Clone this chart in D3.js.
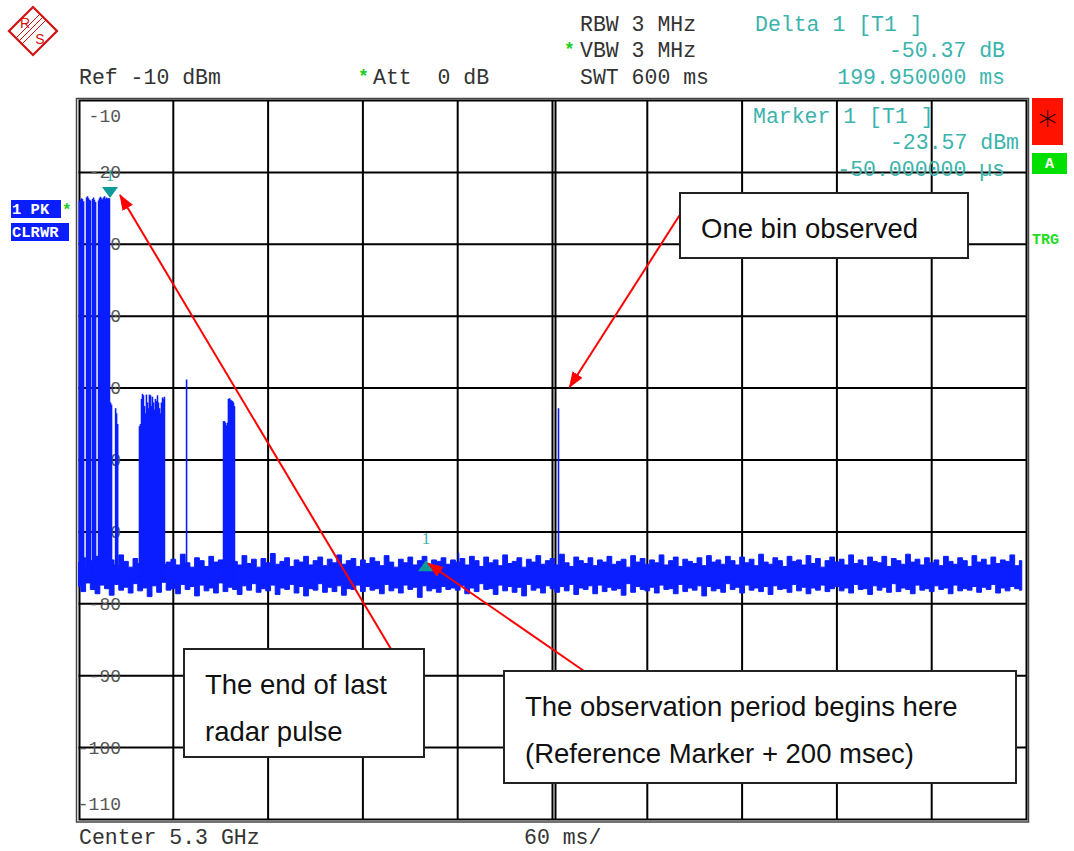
<!DOCTYPE html>
<html>
<head>
<meta charset="utf-8">
<script src="https://cdn.jsdelivr.net/npm/d3@7"></script>
<style>
  body { margin: 0; background: #fff; }
  svg { display: block; }
</style>
</head>
<body>
<div id="chart"></div>
<script>
// sweep: -20 ms .. 580 ms, 60 ms/div ; level: -110 .. -10 dBm
const sweepStart = -20, sweepEnd = 580, msPerDiv = 60;
const yTicks = [-10, -20, -30, -40, -50, -60, -70, -80, -90, -100, -110];

// noise floor, one bin every 3 ms starting at -20 ms (peak / min of each bin)
const noiseStep = 3;
const noiseHigh = [
  -74.2,-73.6,-74.8,-74.0,-73.4,-75.0,-74.3,-73.9,-74.6,-73.2,-74.1,-74.9,-73.7,-74.4,-73.5,-74.7,-74.0,-73.3,-74.5,-74.2,
  -73.8,-74.6,-73.1,-74.3,-74.9,-73.6,-74.0,-74.8,-73.4,-74.2,-73.9,-74.7,-73.5,-74.1,-74.6,-73.3,-74.4,-73.8,-74.9,-73.7,
  -74.3,-73.0,-74.5,-74.1,-73.6,-74.8,-73.9,-74.2,-73.4,-74.6,-74.0,-73.5,-74.7,-73.8,-74.3,-73.2,-74.5,-74.0,-73.7,-74.8,
  -73.9,-74.4,-73.6,-74.1,-74.7,-73.3,-74.2,-74.9,-73.8,-74.3,-73.5,-74.6,-74.0,-73.4,-74.8,-73.9,-74.1,-73.6,-74.5,-73.9,
  -74.2,-73.7,-74.6,-73.4,-74.0,-74.8,-73.5,-74.3,-73.9,-74.7,-73.2,-74.4,-74.1,-73.6,-74.9,-73.8,-74.2,-73.3,-74.5,-74.0,
  -73.7,-74.6,-73.1,-74.3,-74.8,-73.5,-74.0,-74.4,-73.6,-74.7,-73.9,-74.2,-73.4,-74.5,-74.1,-73.8,-74.9,-73.3,-74.2,-73.7,
  -74.5,-73.9,-74.3,-73.2,-74.6,-74.0,-73.5,-74.8,-73.8,-74.1,-74.4,-73.6,-74.7,-73.3,-74.2,-73.9,-74.5,-73.4,-74.0,-74.6,
  -73.5,-74.3,-73.8,-74.7,-73.1,-74.2,-74.5,-73.6,-74.0,-74.8,-73.4,-74.1,-73.9,-74.6,-73.3,-74.4,-73.7,-74.9,-74.0,-73.5,
  -74.2,-73.8,-74.6,-73.2,-74.4,-73.9,-74.7,-73.5,-74.1,-74.3,-73.4,-74.8,-73.7,-74.0,-74.5,-73.1,-74.2,-73.8,-74.6,-73.6,
  -74.3,-73.9,-74.7,-73.4,-74.1,-74.5,-73.6,-74.0,-74.8,-73.3,-74.2,-73.8,-74.6,-73.5,-74.4,-73.9,-74.1,-73.2,-74.7,-74.0
];
const noiseLow = [
  -77.6,-78.3,-77.1,-78.0,-78.6,-77.4,-77.9,-78.8,-77.3,-78.1,-77.7,-78.5,-77.2,-78.2,-77.8,-79.0,-77.5,-78.4,-77.0,-78.1,
  -77.9,-78.6,-77.3,-78.0,-77.6,-78.9,-77.4,-78.2,-77.8,-78.5,-77.1,-78.3,-77.7,-78.0,-78.7,-77.5,-78.1,-77.2,-78.4,-77.9,
  -78.2,-77.4,-78.7,-77.8,-78.0,-77.3,-78.5,-77.6,-78.9,-77.9,-78.1,-77.2,-78.4,-77.7,-78.3,-77.5,-78.8,-77.9,-78.0,-77.4,
  -78.3,-77.6,-78.1,-77.9,-78.6,-77.3,-78.2,-77.8,-78.5,-77.4,-78.0,-77.7,-79.1,-77.5,-78.2,-77.9,-78.4,-77.6,-78.0,-77.8,
  -78.1,-77.5,-78.6,-77.8,-78.3,-77.2,-78.0,-77.9,-78.7,-77.4,-78.2,-77.6,-78.4,-77.7,-78.9,-77.3,-78.1,-77.8,-78.5,-77.5,
  -77.9,-78.4,-77.6,-78.2,-77.3,-78.7,-77.8,-78.0,-77.5,-78.6,-77.4,-78.3,-77.7,-78.1,-77.9,-78.8,-77.2,-78.4,-77.6,-78.0,
  -78.2,-77.7,-78.5,-77.4,-78.0,-77.9,-78.6,-77.3,-78.3,-77.8,-78.1,-77.5,-78.9,-77.6,-78.2,-77.9,-78.4,-77.2,-78.0,-77.7,
  -78.5,-77.4,-78.1,-77.8,-78.3,-77.6,-78.7,-77.5,-78.0,-77.9,-78.4,-77.3,-78.2,-77.7,-78.6,-77.8,-78.1,-77.4,-78.3,-77.9,
  -77.6,-78.2,-77.8,-78.5,-77.3,-78.0,-77.9,-78.7,-77.5,-78.1,-77.7,-78.4,-77.2,-78.3,-77.8,-78.0,-78.6,-77.4,-78.1,-77.9,
  -78.3,-77.5,-78.0,-77.8,-78.6,-77.4,-78.2,-77.9,-78.1,-77.6,-78.4,-77.7,-78.0,-77.3,-78.5,-77.8,-78.2,-77.6,-77.9,-78.1
];

// radar pulses above the floor (time in ms, peak in dBm)
const pulseTimes = [
  -19.4,-18.7,-18.1,-17.5,-16.8,-14.9,-14.3,-13.7,-13.0,-12.4,-11.1,-10.5,-9.9,-9.2,
  -7.3,-6.7,-6.1,-5.4,-4.8,-4.2,-3.5,-2.9,-2.3,-1.6,-1.0,-0.4,0.3,0.9,3.5,4.1,4.8,
  18.6,19.2,19.9,20.5,21.1,21.8,22.4,23.0,23.7,24.3,24.9,25.6,26.2,26.8,27.5,28.1,28.7,29.4,30.0,30.6,31.3,31.9,32.5,33.2,33.8,34.4,
  48.4,
  71.8,72.4,73.0,73.7,74.3,74.9,75.6,76.2,76.8,77.5,78.1,78.7,
  220.5,
  283.8
];
const pulseLevels = [
  -24.0,-23.8,-23.6,-23.7,-24.0,-23.5,-23.3,-23.6,-23.8,-23.9,-23.7,-23.5,-23.8,-24.1,
  -23.9,-23.6,-23.4,-23.6,-23.8,-23.5,-23.3,-23.7,-23.5,-23.6,-23.6,-23.6,-52.0,-52.3,-52.8,-53.5,-55.0,
  -55.3,-55.0,-51.5,-50.8,-51.0,-52.5,-53.5,-50.9,-52.0,-52.8,-50.9,-51.0,-52.5,-51.2,-52.0,-53.0,-51.5,-51.8,-51.0,-52.0,-52.8,-53.5,-52.0,-51.3,-51.5,-51.2,
  -48.8,
  -54.6,-54.6,-54.8,-55.2,-54.8,-51.5,-51.4,-51.6,-51.7,-51.8,-52.0,-52.5,
  -72.9,
  -52.8
];

const marker1 = { time: -0.05, level: -23.57 };
const delta1 = { dTime: 199.95, dLevel: -50.37 };

const width = 1074, height = 851;
const blue = "#0a1eff", teal = "#3bb3ad", mono = "'Liberation Mono', monospace", sans = "'Liberation Sans', Arial, sans-serif";

const x = d3.scaleLinear().domain([sweepStart, sweepEnd]).range([78.5, 1026.5]);
const y = d3.scaleLinear().domain([-110, -10]).range([819.5, 100.5]);

const svg = d3.create("svg")
  .attr("width", width)
  .attr("height", height)
  .attr("viewBox", [0, 0, width, height]);

svg.append("defs").append("marker")
  .attr("id", "arrow")
  .attr("viewBox", "0 0 16 12")
  .attr("refX", 15)
  .attr("refY", 6)
  .attr("markerWidth", 16)
  .attr("markerHeight", 12)
  .attr("markerUnits", "userSpaceOnUse")
  .attr("orient", "auto")
  .append("path")
  .attr("d", "M0,0L16,6L0,12Z")
  .attr("fill", "#ff0000");

// R&S logo
const logo = svg.append("g").attr("transform", "translate(33,31)");
logo.append("rect").attr("x", -17).attr("y", -17).attr("width", 34).attr("height", 34)
  .attr("transform", "rotate(45)").attr("fill", "#fff").attr("stroke", "#d41111").attr("stroke-width", 2.2);
[-3, 0, 3].forEach(o => logo.append("line")
  .attr("x1", 10 + o).attr("y1", -14 + o).attr("x2", -14 + o).attr("y2", 10 + o)
  .attr("stroke", "#d41111").attr("stroke-width", 1));
logo.append("text").attr("x", -8).attr("y", -3).attr("text-anchor", "middle")
  .attr("font-family", sans).attr("font-size", 14).attr("fill", "#d41111").text("R");
logo.append("text").attr("x", 7).attr("y", 13).attr("text-anchor", "middle")
  .attr("font-family", sans).attr("font-size", 14).attr("fill", "#d41111").text("S");

// header settings
const hdr = svg.append("g").attr("font-family", mono).attr("font-size", 21.5).attr("fill", "#333");
hdr.append("text").attr("x", 79).attr("y", 84).attr("xml:space", "preserve").text("Ref -10 dBm");
hdr.append("text").attr("x", 373).attr("y", 84).attr("xml:space", "preserve").text("Att  0 dB");
hdr.append("text").attr("x", 580).attr("y", 31).attr("xml:space", "preserve").text("RBW 3 MHz");
hdr.append("text").attr("x", 580).attr("y", 57).attr("xml:space", "preserve").text("VBW 3 MHz");
hdr.append("text").attr("x", 580).attr("y", 84).attr("xml:space", "preserve").text("SWT 600 ms");
[[358, 82], [564, 55]].forEach(p => svg.append("text").attr("x", p[0]).attr("y", p[1])
  .attr("font-family", mono).attr("font-size", 18).attr("font-weight", "bold").attr("fill", "#22cc22").text("*"));

const mk = svg.append("g").attr("font-family", mono).attr("font-size", 21.5).attr("fill", teal);
mk.append("text").attr("x", 755).attr("y", 31).attr("xml:space", "preserve").text("Delta 1 [T1 ]");
mk.append("text").attr("x", 1005).attr("y", 57).attr("text-anchor", "end").text(delta1.dLevel.toFixed(2) + " dB");
mk.append("text").attr("x", 1005).attr("y", 84).attr("text-anchor", "end").text(delta1.dTime.toFixed(6) + " ms");

// grid
const grid = svg.append("g").attr("stroke", "#000").attr("stroke-width", 2);
grid.selectAll(".v").data(d3.range(sweepStart + msPerDiv, sweepEnd, msPerDiv)).join("line")
  .attr("x1", d => x(d)).attr("x2", d => x(d)).attr("y1", y(-10)).attr("y2", y(-110));
grid.append("line").attr("x1", x(280) + 3).attr("x2", x(280) + 3).attr("y1", y(-10)).attr("y2", y(-110));
grid.selectAll(".h").data(yTicks.slice(1, -1)).join("line")
  .attr("x1", x(sweepStart)).attr("x2", x(sweepEnd)).attr("y1", d => y(d)).attr("y2", d => y(d));

// frame (double line)
svg.append("rect").attr("x", 76.5).attr("y", 98.5).attr("width", 952).attr("height", 723.5)
  .attr("fill", "none").attr("stroke", "#444").attr("stroke-width", 1.5);
svg.append("rect").attr("x", 79.5).attr("y", 100.5).attr("width", 947).attr("height", 719)
  .attr("fill", "none").attr("stroke", "#000").attr("stroke-width", 2);

// level labels
svg.append("g").attr("font-family", mono).attr("font-size", 18).attr("fill", "#555")
  .selectAll("text").data(yTicks).join("text")
  .attr("x", 121).attr("text-anchor", "end")
  .attr("y", d => y(d) + 6 + (d === -10 ? 15 : d === -110 ? -16 : 0))
  .text(d => "-" + (-d));

// trace: noise floor (peak detector -> min/max envelope per bin)
const bins = noiseHigh.map((h, i) => ({ t: sweepStart + i * noiseStep, hi: h, lo: noiseLow[i] }));
svg.append("path").datum(bins)
  .attr("fill", blue).attr("stroke", blue).attr("stroke-width", 1)
  .attr("d", d3.area().curve(d3.curveStep).x(d => x(d.t)).y0(d => y(d.lo)).y1(d => y(d.hi)));

// trace: pulses
svg.append("g").attr("stroke", blue).attr("stroke-width", 1.6)
  .selectAll("line").data(pulseTimes).join("line")
  .attr("x1", d => x(d)).attr("x2", d => x(d))
  .attr("y1", y(-77)).attr("y2", (d, i) => y(pulseLevels[i]));

// markers
const m1x = x(marker1.time), m1y = y(marker1.level);
const d1x = x(marker1.time + delta1.dTime), d1y = y(marker1.level + delta1.dLevel);
svg.append("path").attr("d", `M${m1x},${m1y}l-8,-11h16z`).attr("fill", "#0e9a9a");
svg.append("path").attr("d", `M${d1x},${d1y}l-8,11h16z`).attr("fill", "#0e9a9a");
svg.append("text").attr("x", m1x).attr("y", m1y - 17).attr("text-anchor", "middle")
  .attr("font-family", "'Liberation Serif', serif").attr("font-size", 17).attr("fill", teal).text("1");
svg.append("text").attr("x", d1x).attr("y", d1y - 16).attr("text-anchor", "middle")
  .attr("font-family", "'Liberation Serif', serif").attr("font-size", 17).attr("fill", teal).text("1");

const mk2 = svg.append("g").attr("font-family", mono).attr("font-size", 21.5).attr("fill", teal);
mk2.append("text").attr("x", 753).attr("y", 123).attr("xml:space", "preserve").text("Marker 1 [T1 ]");
mk2.append("text").attr("x", 1019).attr("y", 149).attr("text-anchor", "end").text(marker1.level.toFixed(2) + " dBm");
mk2.append("text").attr("x", 1005).attr("y", 176).attr("text-anchor", "end").text((marker1.time * 1000).toFixed(6) + " \u00b5s");

// trace legend (left)
svg.append("rect").attr("x", 11).attr("y", 200).attr("width", 50).attr("height", 18).attr("fill", blue);
svg.append("rect").attr("x", 11).attr("y", 223).attr("width", 58).attr("height", 18).attr("fill", blue);
const lg = svg.append("g").attr("font-family", mono).attr("font-size", 15.5).attr("font-weight", "bold").attr("fill", "#fff");
lg.append("text").attr("x", 12).attr("y", 214).attr("xml:space", "preserve").text("1 PK");
lg.append("text").attr("x", 12).attr("y", 237).text("CLRWR");
svg.append("text").attr("x", 62).attr("y", 215).attr("font-family", mono).attr("font-size", 16)
  .attr("font-weight", "bold").attr("fill", "#22cc22").text("*");

// status flags (right)
svg.append("rect").attr("x", 1032).attr("y", 98).attr("width", 31).attr("height", 47).attr("fill", "#ff1200");
svg.append("text").attr("x", 1047.5).attr("y", 138).attr("text-anchor", "middle")
  .attr("font-family", "'DejaVu Sans', sans-serif").attr("font-weight", 300).attr("font-size", 38).attr("fill", "#000").text("*");
svg.append("rect").attr("x", 1032).attr("y", 153).attr("width", 35).attr("height", 21).attr("fill", "#00e000");
svg.append("text").attr("x", 1049.5).attr("y", 168).attr("text-anchor", "middle")
  .attr("font-family", mono).attr("font-size", 15).attr("font-weight", "bold").attr("fill", "#fff").text("A");
svg.append("text").attr("x", 1032).attr("y", 244).attr("font-family", mono).attr("font-size", 15)
  .attr("font-weight", "bold").attr("fill", "#22dd22").text("TRG");

// footer
const ft = svg.append("g").attr("font-family", mono).attr("font-size", 21.5).attr("fill", "#333");
ft.append("text").attr("x", 79).attr("y", 844).text("Center 5.3 GHz");
ft.append("text").attr("x", 524).attr("y", 844).text(msPerDiv + " ms/");

// annotations
const notes = [
  { box: [680, 193, 288, 65], lines: ["One bin observed"], from: [681, 213], to: [x(283.8) + 11, y(-52.8) - 21] },
  { box: [184, 649, 240, 108], lines: ["The end of last", "radar pulse"], from: [391, 649], to: [m1x + 10, m1y - 3] },
  { box: [504, 671, 512, 112], lines: ["The observation period begins here", "(Reference Marker + 200 msec)"], from: [584, 671], to: [d1x + 2, d1y + 3] }
];
notes.forEach(n => {
  svg.append("line").attr("x1", n.from[0]).attr("y1", n.from[1]).attr("x2", n.to[0]).attr("y2", n.to[1])
    .attr("stroke", "#ff0000").attr("stroke-width", 2).attr("marker-end", "url(#arrow)");
});
notes.forEach(n => {
  const g = svg.append("g");
  g.append("rect").attr("x", n.box[0]).attr("y", n.box[1]).attr("width", n.box[2]).attr("height", n.box[3])
    .attr("fill", "#fff").attr("stroke", "#222").attr("stroke-width", 2);
  n.lines.forEach((l, i) => g.append("text")
    .attr("x", n.box[0] + 21).attr("y", n.box[1] + (n.lines.length === 1 ? 45 : 45 + i * 47))
    .attr("font-family", sans).attr("font-size", 27.5).attr("fill", "#111").text(l));
});

document.getElementById("chart").appendChild(svg.node());
</script>
</body>
</html>
